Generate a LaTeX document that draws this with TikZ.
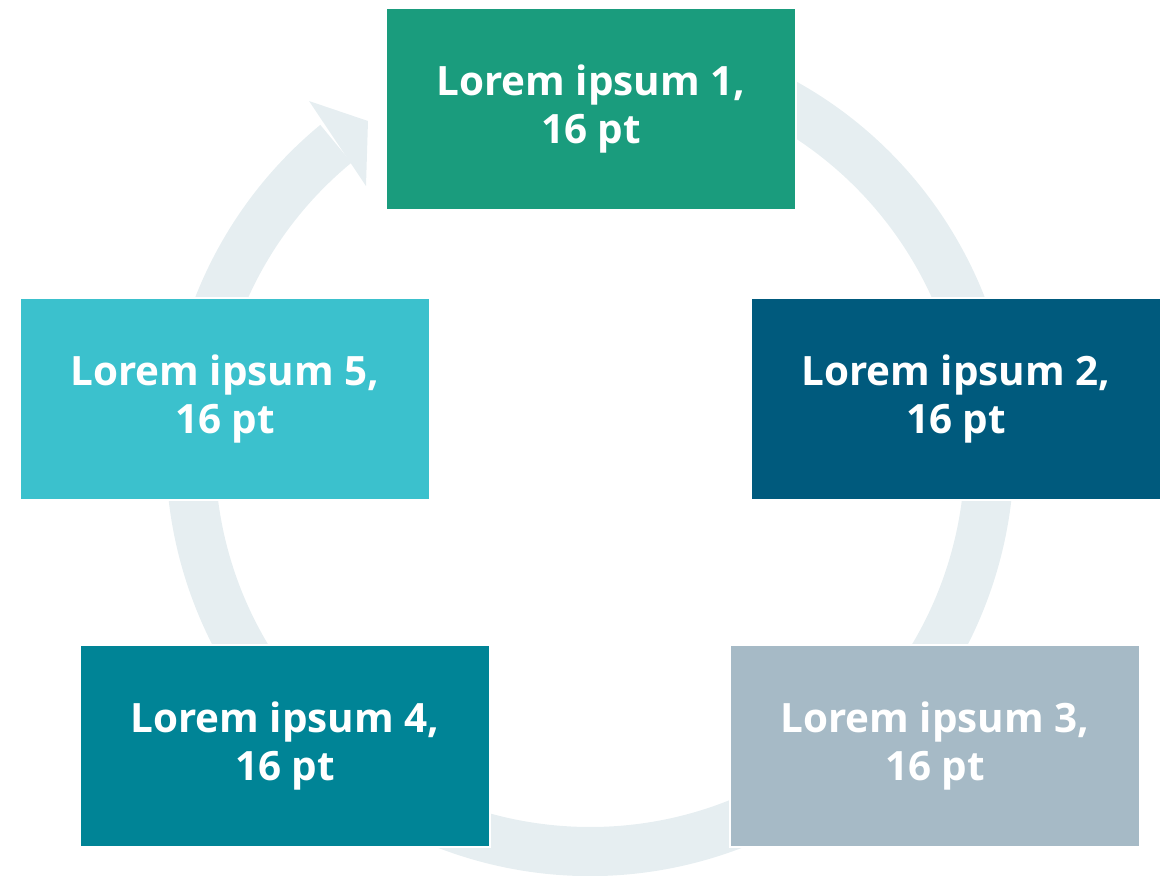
\documentclass[tikz,border=0pt]{standalone}
\usepackage{fontspec}
\setmainfont{Open Sans}
\usepackage{tikz}
\usetikzlibrary{calc}
\definecolor{cA}{HTML}{1A9C7D}
\definecolor{cB}{HTML}{005A7D}
\definecolor{cC}{HTML}{A6BAC6}
\definecolor{cD}{HTML}{008496}
\definecolor{cE}{HTML}{3BC1CD}
\definecolor{cRing}{HTML}{E6EEF1}
\tikzset{
  card/.style={rectangle,draw=white,line width=0.04cm,minimum width=8.2cm,minimum height=4.06cm,
    inner sep=0pt,align=center,text=white,font=\fontsize{23}{27.5}\selectfont\bfseries},
  ring/.style={fill=cRing,draw=none},
}
\begin{document}
\begin{tikzpicture}[x=0.02cm,y=0.02cm]
\useasboundingbox (0,0) rectangle (1171,-876);
\coordinate (c) at (590,-452);
% ring with the arrow head at the top left
\fill[ring] ($(c)+(70:424)$) arc[start angle=70,end angle=-230.5,radius=424]
  -- ($(c)+(129.5:375)$) arc[start angle=129.5,end angle=430,radius=375] -- cycle;
\coordinate (hA) at (309,-101);
\coordinate (hB) at (368,-121);
\coordinate (hC) at (366,-186);
\fill[ring] (hA) -- (hB) -- (hC) -- cycle;
% the five steps
\node[card,fill=cA] (s1) at (591,-109) {Lorem ipsum 1,\\16 pt};
\node[card,fill=cB] (s2) at (956,-399) {Lorem ipsum 2,\\16 pt};
\node[card,fill=cC] (s3) at (935,-746) {Lorem ipsum 3,\\16 pt};
\node[card,fill=cD] (s4) at (285,-746) {Lorem ipsum 4,\\16 pt};
\node[card,fill=cE] (s5) at (225,-399) {Lorem ipsum 5,\\16 pt};
\end{tikzpicture}
\end{document}
